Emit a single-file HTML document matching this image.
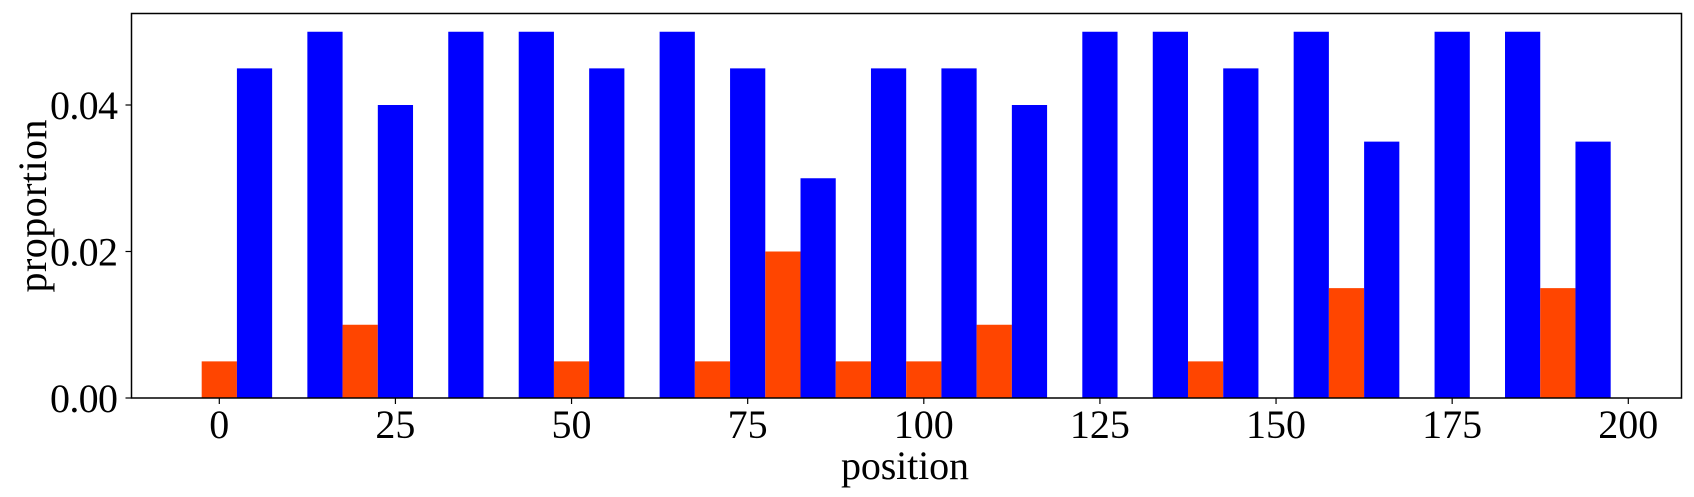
<!DOCTYPE html>
<html><head><meta charset="utf-8"><style>
body{margin:0;background:#fff;}
svg{display:block;font-family:"Liberation Serif",serif;}
</style></head><body>
<svg id="chart" width="1694" height="497"></svg>
<script>
const positions=[0,10,20,30,40,50,60,70,80,90,100,110,120,130,140,150,160,170,180,190];
const orangeValues=[0.005,0,0.01,0,0,0.005,0,0.005,0.02,0.005,0.005,0.01,0,0,0.005,0,0.015,0,0,0.015];
const blueValues=[0.045,0.05,0.04,0.05,0.05,0.045,0.05,0.045,0.03,0.045,0.045,0.04,0.05,0.05,0.045,0.05,0.035,0.05,0.05,0.035];
const xTicks=[0,25,50,75,100,125,150,175,200];
const yTicks=[0,0.02,0.04];
const yTickLabels=["0.00","0.02","0.04"];
const barWidth=5;

const L=131.5,R=1681.5,T=13.5,B=398;
const x=v=>219.3+(v)*(1628.3-219.3)/200;
const y=v=>398-v*7325;
const NS="http://www.w3.org/2000/svg";
const svg=document.getElementById('chart');
function mk(tag,attrs){const e=document.createElementNS(NS,tag);for(const k in attrs)e.setAttribute(k,attrs[k]);svg.appendChild(e);return e;}

positions.forEach((p,i)=>{
  if(orangeValues[i]>0){
    const r=mk('rect',{x:x(p-barWidth/2),y:y(orangeValues[i]),width:x(p+barWidth/2)-x(p-barWidth/2),height:y(0)-y(orangeValues[i]),fill:'#ff4500'});
    
    
  }
  if(blueValues[i]>0){
    const r=mk('rect',{x:x(p+barWidth/2),y:y(blueValues[i]),width:x(p+barWidth*1.5)-x(p+barWidth/2),height:y(0)-y(blueValues[i]),fill:'#0000ff'});
    
    
  }
});
const frame=mk('rect',{x:L,y:T,width:R-L,height:B-T,fill:'none',stroke:'#000','stroke-width':1.5});



xTicks.forEach(t=>{
  mk('line',{x1:x(t),x2:x(t),y1:B,y2:B+6,stroke:'#000','stroke-width':1.2});
  const tx=mk('text',{x:x(t),y:438,'font-size':40,'text-anchor':'middle'});
  tx.textContent=t;
  
  
});
yTicks.forEach((t,i)=>{
  mk('line',{x1:L-6,x2:L,y1:y(t),y2:y(t),stroke:'#000','stroke-width':1.2});
  const tx=mk('text',{x:118,y:y(t)+14,'font-size':40,'text-anchor':'end',textLength:68});
  tx.textContent=yTickLabels[i];
  
  
});
const xl=mk('text',{x:905,y:479,'font-size':40,'text-anchor':'middle',textLength:128});
xl.textContent='position';


const yl=mk('text',{x:0,y:0,'font-size':40,'text-anchor':'middle',textLength:173,transform:'translate(46,206) rotate(-90)'});
yl.textContent='proportion';


</script>
</body></html>
